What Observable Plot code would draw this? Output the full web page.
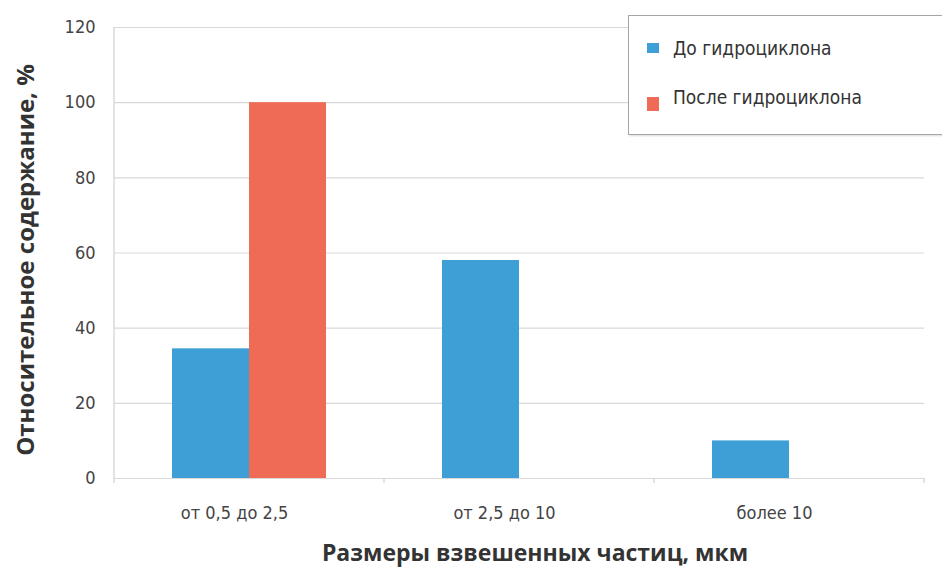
<!DOCTYPE html>
<html>
<head>
<meta charset="utf-8">
<script src="https://cdn.jsdelivr.net/npm/d3@7"></script>
<script src="https://cdn.jsdelivr.net/npm/@observablehq/plot@0.6"></script>
<style>
  html, body { margin: 0; padding: 0; background: #fff; }
  #wrap { position: relative; width: 942px; height: 574px; overflow: hidden; }
  .narrow { font-family: "Liberation Sans Narrow", "DejaVu Sans Condensed", "Roboto", sans-serif; font-stretch: condensed; }
  #legend { position: absolute; left: 628px; top: 15px; width: 330px; height: 118px;
            border: 1.5px solid #a6a6a6; box-shadow: 1px 1px 2px rgba(0,0,0,0.15); background: #fff; }
  .item { position: absolute; left: 18px; display: flex; align-items: center; font-size: 19px; color: #333; }
  .sw { width: 12px; height: 10px; margin-right: 14px; }
  #ytitle { position: absolute; left: 24px; top: 260px; transform: translate(-50%, -50%) rotate(-90deg);
            white-space: nowrap; font-family: "Open Sans", sans-serif; font-weight: 700; font-size: 24px; color: #333; }
  #xtitle { position: absolute; left: 535px; top: 552px; transform: translate(-50%, -50%);
            white-space: nowrap; font-family: "Open Sans", sans-serif; font-weight: 700; font-size: 23px; color: #333; }
</style>
</head>
<body>
<div id="wrap"></div>
<script>
const categories = ["от 0,5 до 2,5", "от 2,5 до 10", "более 10"];
const seriesNames = ["До гидроциклона", "После гидроциклона"];
const beforeValues = [34.5, 58, 10];
const afterValues = [100, 0, 0];
const yTicks = [0, 20, 40, 60, 80, 100, 120];
const colors = ["#3d9fd6", "#ef6b55"];
const yTitle = "Относительное содержание, %";
const xTitle = "Размеры взвешенных частиц, мкм";

const data = [];
categories.forEach((c, i) => {
  data.push({cat: c, series: seriesNames[0], value: beforeValues[i]});
  data.push({cat: c, series: seriesNames[1], value: afterValues[i]});
});

const plot = Plot.plot({
  width: 942,
  height: 574,
  marginTop: 27,
  marginBottom: 96,
  marginLeft: 113,
  marginRight: 17,
  style: {fontFamily: '"Liberation Sans Narrow", "DejaVu Sans Condensed", sans-serif', fontSize: "18px", color: "#444", background: "#fff"},
  fx: {domain: categories, padding: 0, label: null},
  x: {domain: seriesNames, paddingInner: 0, paddingOuter: 0.735, axis: null},
  y: {domain: [0, 120], ticks: yTicks, label: null},
  color: {domain: seriesNames, range: colors},
  marks: [
    Plot.gridY(yTicks, {stroke: "#d9d9d9", strokeOpacity: 1, strokeWidth: 1.2}),
    Plot.axisY(yTicks, {tickSize: 0, tickPadding: 19, fill: "#444", fontSize: 18, label: null}),
    Plot.axisFx({anchor: "bottom", tickSize: 0, tickPadding: 28, dx: -15, fill: "#444", fontSize: 18, label: null}),
    Plot.barY(data, {fx: "cat", x: "series", y: "value", fill: "series"})
  ]
});

const wrap = document.getElementById("wrap");
wrap.appendChild(plot);

// axis line and category boundary ticks, positioned via the plot's own scales
const fx = plot.scale("fx");
const y = plot.scale("y");
const svg = d3.select(plot);
const y0 = y.apply(0), yTop = y.apply(120);
const bounds = categories.map(c => fx.apply(c)).concat([fx.apply(categories[categories.length - 1]) + fx.bandwidth]);
svg.append("line").attr("x1", bounds[0]).attr("x2", bounds[0]).attr("y1", yTop).attr("y2", y0 + 5)
  .attr("stroke", "#d0d0d0").attr("stroke-width", 1.2);
svg.selectAll(".btick").data(bounds.slice(1)).join("line")
  .attr("x1", d => d).attr("x2", d => d).attr("y1", y0).attr("y2", y0 + 5)
  .attr("stroke", "#d0d0d0").attr("stroke-width", 1.2);

// legend
const legend = document.createElement("div");
legend.id = "legend";
legend.className = "narrow";
seriesNames.forEach((s, i) => {
  const it = document.createElement("div");
  it.className = "item";
  it.style.top = (i === 0 ? 21 : 67) + "px";
  const sw = document.createElement("div");
  sw.className = "sw";
  sw.style.background = colors[i];
  if (i === 1) { sw.style.height = "14px"; sw.style.marginTop = "14px"; }
  const t = document.createElement("span");
  t.textContent = s;
  it.appendChild(sw); it.appendChild(t);
  legend.appendChild(it);
});
wrap.appendChild(legend);

const yt = document.createElement("div");
yt.id = "ytitle"; yt.textContent = yTitle; wrap.appendChild(yt);
const xt = document.createElement("div");
xt.id = "xtitle"; xt.textContent = xTitle; wrap.appendChild(xt);
</script>
</body>
</html>
